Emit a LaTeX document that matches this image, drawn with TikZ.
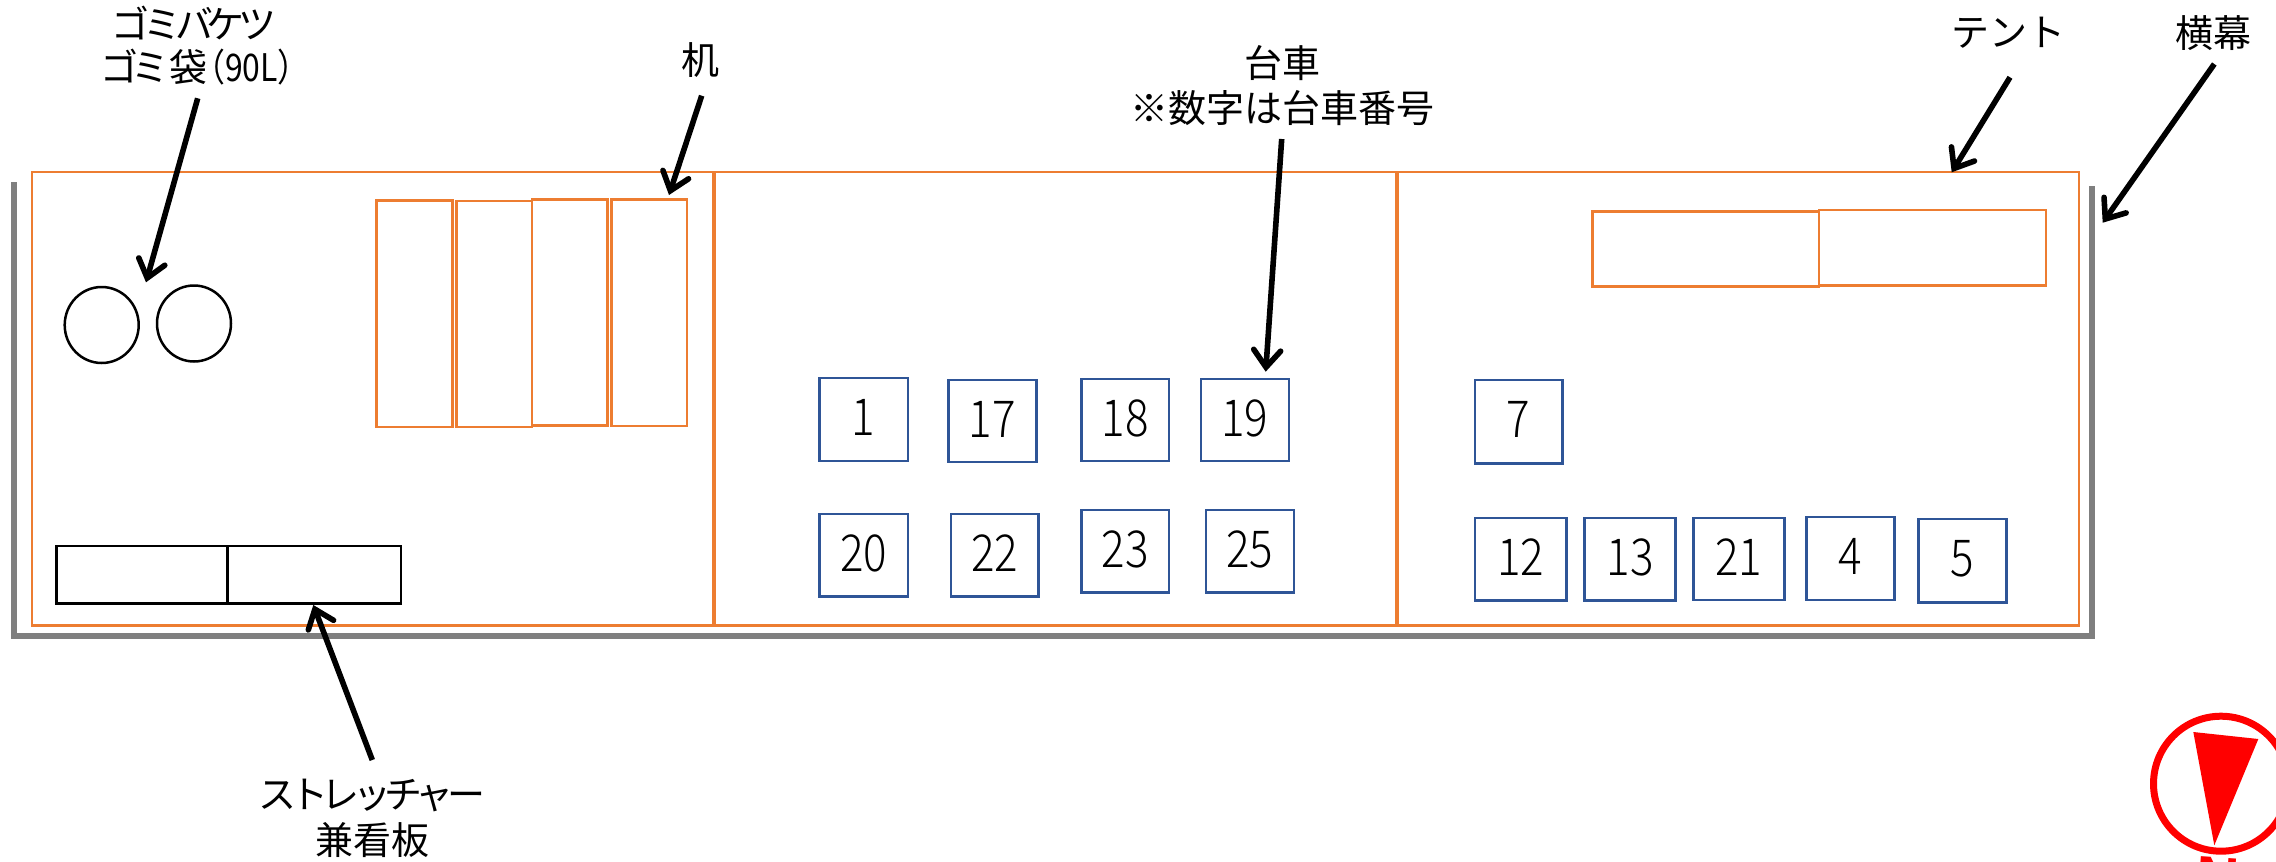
\documentclass[tikz,border=0pt]{standalone}
\usepackage{fontspec}
\setmainfont{Noto Sans CJK JP}
\newfontfamily\cjkn[LetterSpace=-17]{Noto Sans CJK JP}
\newfontfamily\digitf[FakeStretch=0.86]{Noto Sans CJK JP Light}
\newfontfamily\narrowf[FakeStretch=0.84]{Noto Sans CJK JP}
\newfontfamily\northf{Liberation Sans}
\usetikzlibrary{arrows.meta,shapes.geometric}
\definecolor{tentorange}{HTML}{ED7D31}
\definecolor{cartblue}{HTML}{2F5597}
\definecolor{wallgrey}{HTML}{7F7F7F}
\tikzset{
  x=0.5pt,y=-0.5pt,
  tentbox/.style={draw=tentorange,line width=1.25pt,inner sep=0pt,outer sep=0pt},
  cartbox/.style={draw=cartblue,line width=1.25pt,inner sep=0pt,outer sep=0pt,font=\fontsize{25.5}{26}\digitf,text height=18pt,text depth=2pt},
  blackbox/.style={draw=black,line width=1.25pt,inner sep=0pt,outer sep=0pt},
  bucket/.style={draw=black,line width=1.25pt,ellipse,inner sep=0pt,outer sep=0pt},
  wall/.style={draw=wallgrey,line width=3pt,line join=miter},
  pointer/.style={draw=black,line width=2.8pt,-{Straight Barb[length=8.5pt,width=13.5pt,line cap=round]}},
  lbl/.style={inner sep=0pt,outer sep=0pt,align=center,font=\fontsize{19}{22.5}\selectfont},
}
\newcommand{\placebox}[7]{%
  \node[#6,minimum width={(#4-#2)*0.5pt},minimum height={(#5-#3)*0.5pt}] (#1) at ({(#2+#4)/2},{(#3+#5)/2}) {#7};}
\begin{document}
\begin{tikzpicture}
\useasboundingbox (0,0) rectangle (2276,862);
\clip (0,0) rectangle (2276,862);
% wall
\draw[wall] (14,182) -- (14,636.3) -- (2092,636.3) -- (2092,186);
% tents
\placebox{tentA}{32}{172}{713.3}{625.5}{tentbox}{}
\placebox{tentB}{715}{172}{1396}{625.5}{tentbox}{}
\placebox{tentC}{1398}{172}{2079}{625.5}{tentbox}{}
% desks
\placebox{deskA}{376.7}{200.3}{452.3}{427}{tentbox}{}
\placebox{deskB}{456.3}{201}{532}{427}{tentbox}{}
\placebox{deskC}{532}{199.3}{607.7}{425.7}{tentbox}{}
\placebox{deskD}{611.3}{199.3}{687}{426}{tentbox}{}
\placebox{deskE}{1592.3}{211.3}{1819}{286.3}{tentbox}{}
\placebox{deskF}{1819}{210}{2046}{285.3}{tentbox}{}
% buckets
\node[bucket,minimum width=37pt,minimum height=38pt] (bucketA) at (101.7,325) {};
\node[bucket,minimum width=37pt,minimum height=38pt] (bucketB) at (194,323.5) {};
% stretchers
\placebox{stretchA}{56.7}{546}{227.3}{603.7}{blackbox}{}
\placebox{stretchB}{227.3}{546}{401}{603.7}{blackbox}{}
% carts
\placebox{cartA}{819.6}{378}{907.8}{461}{cartbox}{1}
\placebox{cartQ}{948.4}{380}{1036.5}{462}{cartbox}{17}
\placebox{cartR}{1081.3}{379}{1169.1}{461}{cartbox}{18}
\placebox{cartS}{1200.8}{379}{1289}{461}{cartbox}{19}
\placebox{cartT}{819.6}{514}{907.8}{596.3}{cartbox}{20}
\placebox{cartV}{950.8}{514}{1038.6}{596.3}{cartbox}{22}
\placebox{cartW}{1081.3}{510}{1169.1}{592.3}{cartbox}{23}
\placebox{cartY}{1206}{510}{1293.8}{592.3}{cartbox}{25}
\placebox{cartG}{1474.8}{380}{1562.5}{463.3}{cartbox}{7}
\placebox{cartL}{1474.8}{518}{1566.7}{600.7}{cartbox}{12}
\placebox{cartM}{1584.3}{518}{1675.7}{600.7}{cartbox}{13}
\placebox{cartU}{1693.3}{518}{1784.4}{600}{cartbox}{21}
\placebox{cartD}{1806.6}{517}{1894.3}{600}{cartbox}{4}
\placebox{cartE}{1918.7}{519}{2006.4}{602.3}{cartbox}{5}
% labels
\node[lbl] (binlabel) at (194,23) {\cjkn ゴミバケツ};
\node[lbl,anchor=west] (baglabel) at (100,67) {{\cjkn ゴミ}袋\hspace{-.38em}{\narrowf （90L）}};
\node[lbl] (desklabel) at (700,60) {机};
\node[lbl] (cartlabel) at (1282,63) {台車};
\node[lbl] (cartnote) at (1282,108) {※数字は台車番号};
\node[lbl] (tentlabel) at (2008,33) {テント};
\node[lbl] (bannerlabel) at (2213,33) {横幕};
\node[lbl] (stretchlabel) at (372,795) {\cjkn ストレッチャー};
\node[lbl] (signlabel) at (372,840) {兼看板};
% pointers
\coordinate (binfrom) at (197.7,98.3);  \coordinate (binto) at (146,282.3);
\coordinate (deskfrom) at (701.7,95.7); \coordinate (deskto) at (669,195);
\coordinate (cartfrom) at (1281.7,139); \coordinate (cartto) at (1265.7,371.7);
\coordinate (tentfrom) at (2010,77.3);  \coordinate (tentto) at (1951.7,172.3);
\coordinate (bannerfrom) at (2214.3,64);\coordinate (bannerto) at (2102.7,222.7);
\coordinate (stretchfrom) at (372.3,760);\coordinate (stretchto) at (313.3,605);
\draw[pointer] (binfrom) -- (binto);
\draw[pointer] (deskfrom) -- (deskto);
\draw[pointer] (cartfrom) -- (cartto);
\draw[pointer] (tentfrom) -- (tentto);
\draw[pointer] (bannerfrom) -- (bannerto);
\draw[pointer] (stretchfrom) -- (stretchto);
% compass
\draw[red,line width=3.5pt] (2221,783.7) circle[radius=33.75pt];
\fill[red] (2193.3,732) -- (2258.3,739) -- (2214.3,845.3) -- cycle;
\node[text=red,inner sep=0pt,font=\fontsize{30}{30}\northf\bfseries,rotate=-4] (north) at (2218,878) {N};
\end{tikzpicture}
\end{document}
